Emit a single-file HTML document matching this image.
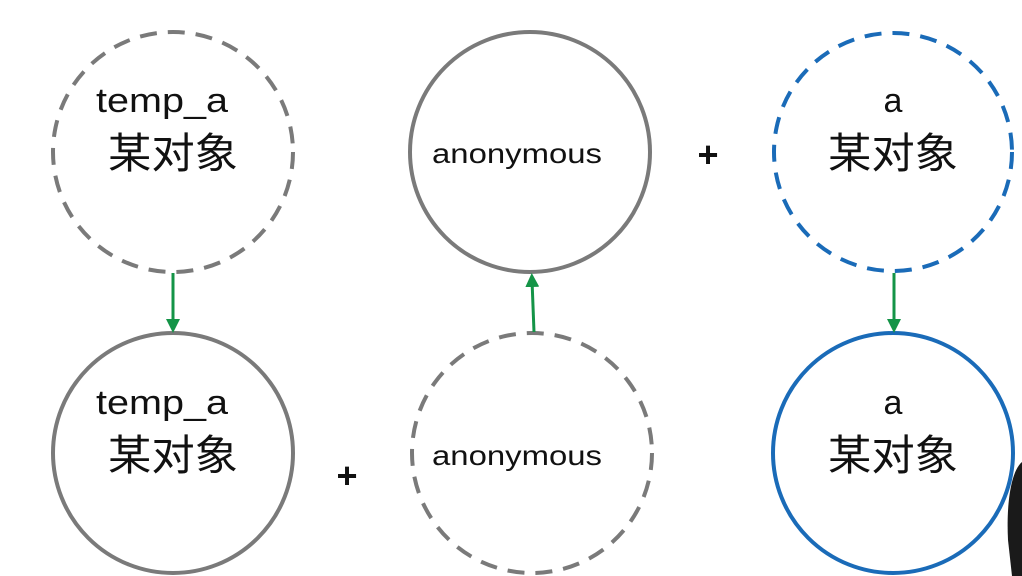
<!DOCTYPE html>
<html><head><meta charset="utf-8"><style>
html,body{margin:0;padding:0;background:#fff;}
svg{display:block;}
text{font-family:"Liberation Sans","Noto Sans CJK SC",sans-serif;fill:#111;text-anchor:middle;}
</style></head><body>
<svg width="1022" height="576" viewBox="0 0 1022 576" xmlns="http://www.w3.org/2000/svg">
<defs>
<marker id="ah" markerWidth="14" markerHeight="14" refX="7" refY="7" orient="auto" markerUnits="userSpaceOnUse" viewBox="0 0 14 14">
<path d="M0,0 L14,7 L0,14 z" fill="#149447"/></marker>
</defs>
<g fill="none" stroke-width="4">
<circle cx="173" cy="152" r="120" stroke="#7a7a7a" stroke-dasharray="17 11"/>
<circle cx="530" cy="152" r="120" stroke="#7a7a7a"/>
<circle cx="893" cy="152" r="119" stroke="#1a6bb8" stroke-dasharray="17 11"/>
<circle cx="173" cy="453" r="120" stroke="#7a7a7a"/>
<circle cx="532" cy="453" r="120" stroke="#7a7a7a" stroke-dasharray="17 11"/>
<circle cx="893" cy="453" r="120" stroke="#1a6bb8"/>
</g>
<g stroke="#149447" stroke-width="3">
<line x1="173" y1="273" x2="173" y2="326" marker-end="url(#ah)"/>
<line x1="534" y1="332" x2="532" y2="280" marker-end="url(#ah)"/>
<line x1="894" y1="273" x2="894" y2="326" marker-end="url(#ah)"/>
</g>
<path d="M1022,462 C1012,470 1006,500 1008,540 L1012,576 L1022,576 Z" fill="#1a1a1a"/>
<text x="162" y="112" font-size="34" textLength="132" lengthAdjust="spacingAndGlyphs">temp_a</text>
<text x="173" y="168" font-size="42" textLength="130" lengthAdjust="spacingAndGlyphs">某对象</text>
<text x="517" y="163" font-size="28" textLength="170" lengthAdjust="spacingAndGlyphs">anonymous</text>
<text x="708" y="167" font-size="36" font-weight="bold">+</text>
<text x="893" y="112" font-size="34">a</text>
<text x="893" y="168" font-size="42" textLength="130" lengthAdjust="spacingAndGlyphs">某对象</text>
<text x="162" y="414" font-size="34" textLength="132" lengthAdjust="spacingAndGlyphs">temp_a</text>
<text x="173" y="470" font-size="42" textLength="130" lengthAdjust="spacingAndGlyphs">某对象</text>
<text x="347" y="488" font-size="36" font-weight="bold">+</text>
<text x="517" y="465" font-size="28" textLength="170" lengthAdjust="spacingAndGlyphs">anonymous</text>
<text x="893" y="414" font-size="34">a</text>
<text x="893" y="470" font-size="42" textLength="130" lengthAdjust="spacingAndGlyphs">某对象</text>
</svg>
</body></html>
